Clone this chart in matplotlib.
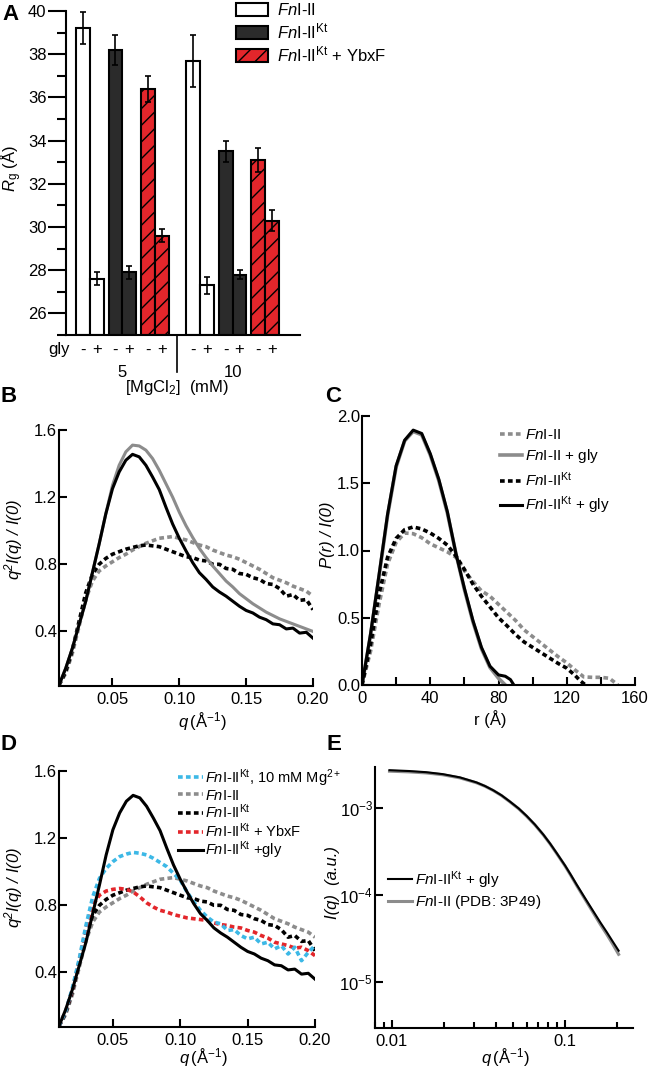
import matplotlib
matplotlib.use("Agg")
import matplotlib.pyplot as plt
import matplotlib.transforms as mtransforms
from matplotlib.ticker import MultipleLocator, FormatStrFormatter, LogLocator, NullLocator, NullFormatter
import numpy as np

plt.rcParams['font.family'] = ['Liberation Sans', 'DejaVu Sans']
plt.rcParams['font.size'] = 12
plt.rcParams['axes.linewidth'] = 1.5
plt.rcParams['mathtext.fontset'] = 'custom'
plt.rcParams['mathtext.rm'] = 'Liberation Sans'
plt.rcParams['mathtext.it'] = 'Liberation Sans:italic'
plt.rcParams['mathtext.sf'] = 'Liberation Sans'
plt.rcParams['hatch.color'] = 'black'
plt.rcParams['hatch.linewidth'] = 1.0

# ---- panel A : Rg bars (order: 5 mM -, 5 mM +, 10 mM -, 10 mM +)
rg_fn = [39.2, 27.6, 37.7, 27.3]
rg_fn_err = [0.75, 0.3, 1.2, 0.4]
rg_kt = [38.2, 27.9, 33.5, 27.8]
rg_kt_err = [0.7, 0.3, 0.5, 0.2]
rg_ybxf = [36.4, 29.6, 33.1, 30.3]
rg_ybxf_err = [0.6, 0.3, 0.55, 0.5]
mg_labels = ['5', '10']
gly_signs = ['-', '+']

# ---- panels B / D : Kratky curves
q = [0.010, 0.015, 0.020, 0.025, 0.030, 0.035, 0.040, 0.045, 0.050, 0.055,
     0.060, 0.065, 0.070, 0.075, 0.080, 0.085, 0.090, 0.095, 0.100, 0.105,
     0.110, 0.115, 0.120, 0.125, 0.130, 0.135, 0.140, 0.145, 0.150, 0.155,
     0.160, 0.165, 0.170, 0.175, 0.180, 0.185, 0.190, 0.195, 0.200]
kr_kt_gly = [0.08, 0.18, 0.30, 0.44, 0.58, 0.75, 0.92, 1.10, 1.25, 1.35,
             1.42, 1.455, 1.44, 1.39, 1.32, 1.245, 1.14, 1.04, 0.955, 0.88,
             0.81, 0.75, 0.71, 0.665, 0.635, 0.61, 0.58, 0.55, 0.525, 0.51,
             0.485, 0.47, 0.445, 0.44, 0.415, 0.42, 0.39, 0.395, 0.36]
kr_fn_gly = [0.08, 0.18, 0.30, 0.44, 0.58, 0.75, 0.92, 1.10, 1.27, 1.39,
             1.47, 1.51, 1.505, 1.48, 1.43, 1.36, 1.28, 1.20, 1.11, 1.03,
             0.96, 0.895, 0.84, 0.79, 0.745, 0.70, 0.665, 0.625, 0.595, 0.565,
             0.54, 0.515, 0.495, 0.475, 0.46, 0.445, 0.43, 0.415, 0.40]
kr_kt = [0.08, 0.16, 0.29, 0.46, 0.63, 0.74, 0.80, 0.835, 0.86, 0.875,
         0.89, 0.90, 0.91, 0.915, 0.91, 0.905, 0.89, 0.875, 0.86, 0.845,
         0.84, 0.825, 0.82, 0.80, 0.80, 0.775, 0.77, 0.745, 0.74, 0.72,
         0.71, 0.685, 0.68, 0.655, 0.61, 0.62, 0.585, 0.59, 0.53]
kr_fn = [0.08, 0.15, 0.27, 0.43, 0.59, 0.70, 0.76, 0.79, 0.815, 0.84,
         0.86, 0.885, 0.905, 0.925, 0.94, 0.955, 0.96, 0.965, 0.955, 0.945,
         0.93, 0.915, 0.905, 0.885, 0.87, 0.855, 0.845, 0.83, 0.81, 0.79,
         0.77, 0.745, 0.72, 0.705, 0.69, 0.67, 0.655, 0.64, 0.61]
kr_kt_mg10 = [0.08, 0.17, 0.31, 0.48, 0.68, 0.85, 0.96, 1.02, 1.06, 1.09,
              1.105, 1.115, 1.11, 1.10, 1.08, 1.055, 1.03, 0.99, 0.95, 0.88,
              0.82, 0.77, 0.73, 0.70, 0.69, 0.65, 0.655, 0.62, 0.60, 0.61,
              0.57, 0.58, 0.54, 0.56, 0.51, 0.55, 0.47, 0.52, 0.56]
kr_kt_ybxf = [0.08, 0.17, 0.30, 0.47, 0.66, 0.80, 0.86, 0.885, 0.895, 0.90,
              0.895, 0.88, 0.85, 0.815, 0.79, 0.77, 0.76, 0.745, 0.735, 0.725,
              0.72, 0.715, 0.71, 0.695, 0.685, 0.68, 0.67, 0.665, 0.65, 0.64,
              0.62, 0.605, 0.58, 0.57, 0.56, 0.545, 0.55, 0.53, 0.50]

# ---- panel C : P(r)
r_kt_gly = [0, 5, 10, 15, 20, 25, 30, 35, 40, 45, 50, 55, 60, 65, 70, 75, 80, 84, 87, 89]
p_kt_gly = [0.0, 0.38, 0.82, 1.27, 1.63, 1.82, 1.895, 1.87, 1.72, 1.53, 1.29, 0.98,
            0.72, 0.48, 0.28, 0.14, 0.075, 0.065, 0.04, 0.0]
r_fn_gly = [0, 5, 10, 15, 20, 25, 30, 35, 40, 45, 50, 55, 60, 65, 70, 75, 80, 84]
p_fn_gly = [0.0, 0.37, 0.81, 1.26, 1.62, 1.815, 1.885, 1.86, 1.71, 1.52, 1.28, 0.98,
            0.71, 0.47, 0.27, 0.13, 0.05, 0.0]
r_kt = [0, 5, 10, 15, 20, 25, 30, 35, 40, 45, 50, 55, 60, 65, 70, 75, 80, 85,
        90, 95, 100, 105, 110, 115, 120, 125, 128, 131]
p_kt = [0.0, 0.30, 0.68, 0.95, 1.09, 1.155, 1.175, 1.16, 1.13, 1.09, 1.04, 0.96,
        0.86, 0.75, 0.66, 0.58, 0.50, 0.44, 0.375, 0.32, 0.28, 0.24, 0.20, 0.16,
        0.125, 0.07, 0.03, 0.0]
r_fn = [0, 5, 10, 15, 20, 25, 30, 35, 40, 45, 50, 55, 60, 65, 70, 75, 80, 85,
        90, 95, 100, 105, 110, 115, 120, 125, 130, 135, 140, 145, 150]
p_fn = [0.0, 0.25, 0.60, 0.90, 1.06, 1.13, 1.125, 1.095, 1.05, 1.02, 0.99, 0.95,
        0.85, 0.77, 0.70, 0.66, 0.60, 0.54, 0.48, 0.41, 0.36, 0.31, 0.26, 0.21,
        0.165, 0.11, 0.06, 0.057, 0.057, 0.05, 0.0]

# ---- panel E : I(q), log-log
q_e = [0.0097, 0.0126, 0.0158, 0.0197, 0.0247, 0.0308, 0.0345, 0.0385, 0.043,
       0.048, 0.054, 0.060, 0.067, 0.075, 0.082, 0.0894, 0.100, 0.108, 0.1167,
       0.130, 0.146, 0.160, 0.174, 0.188, 0.204]
i_kt_gly = [2.72e-3, 2.66e-3, 2.58e-3, 2.45e-3, 2.25e-3, 1.97e-3, 1.79e-3, 1.60e-3,
            1.40e-3, 1.19e-3, 9.89e-4, 8.13e-4, 6.46e-4, 4.95e-4, 3.91e-4, 3.05e-4,
            2.19e-4, 1.71e-4, 1.32e-4, 9.33e-5, 6.46e-5, 4.84e-5, 3.76e-5, 2.95e-5,
            2.29e-5]
i_fn_pdb = [2.65e-3, 2.60e-3, 2.53e-3, 2.41e-3, 2.22e-3, 1.95e-3, 1.78e-3, 1.59e-3,
            1.39e-3, 1.18e-3, 9.8e-4, 8.05e-4, 6.4e-4, 4.9e-4, 3.87e-4, 3.01e-4,
            2.16e-4, 1.68e-4, 1.29e-4, 9.05e-5, 6.2e-5, 4.6e-5, 3.55e-5, 2.76e-5,
            2.08e-5]

FN = r'$Fn$I-II'
KT = r'$Fn$I-II$^{\mathregular{Kt}}$'
GRAY = '#8c8c8c'
RED = '#e3262b'
CYAN = '#3cb8e6'
DARK = '#2b2b2b'
DASH = (0, (1.3, 0.9))

W, H = 650, 1070
fig = plt.figure(figsize=(W / 100, H / 100), dpi=100)


def axes_px(left, top, right, bottom):
	return fig.add_axes([left / W, 1 - bottom / H, (right - left) / W, (bottom - top) / H])


def style(ax):
	ax.spines['top'].set_visible(False)
	ax.spines['right'].set_visible(False)
	ax.tick_params(which='both', direction='in', width=1.5, length=6, labelsize=12)
	ax.tick_params(axis='y', pad=1.5)
	ax.tick_params(axis='x', pad=4)


# ================= A
axA = axes_px(66, 11, 300, 335)
axA.spines['top'].set_visible(False)
axA.spines['right'].set_visible(False)
group_step, pair_step = 8.02, 2.36
series = [(rg_fn, rg_fn_err, 'white', None, FN),
          (rg_kt, rg_kt_err, DARK, None, KT),
          (rg_ybxf, rg_ybxf_err, RED, '//', KT + ' + YbxF')]
all_x = []
for s, (vals, errs, col, hatch, lab) in enumerate(series):
	xs = [g * group_step + s * pair_step + k + 0.5 for g in range(2) for k in range(2)]
	all_x += xs
	axA.bar(xs, np.array(vals) - 25, bottom=25, width=1.0, color=col, edgecolor='black',
	        linewidth=1.5, hatch=hatch, label=lab, zorder=2)
	axA.errorbar(xs, vals, yerr=errs, fmt='none', ecolor='black', elinewidth=1.2,
	             capsize=2.5, capthick=1.2, zorder=3)
axA.set_xlim(-0.73, 16.27)
axA.set_ylim(25, 40)
axA.set_xticks([])
axA.yaxis.set_major_locator(MultipleLocator(2))
axA.yaxis.set_minor_locator(MultipleLocator(1))
axA.tick_params(axis='y', which='major', direction='out', length=13, width=1.5, labelsize=12, pad=1)
axA.tick_params(axis='y', which='minor', direction='out', length=6.5, width=1.5)
axA.set_ylabel(r'$R_{\mathregular{g}}$ (Å)', fontsize=12)
axA.yaxis.set_label_coords(-0.18, 0.512)

trans = mtransforms.blended_transform_factory(axA.transData, axA.transAxes)
axA.text(-1.27, -0.046, 'gly', transform=trans, ha='center', va='center', fontsize=12)
for i, x in enumerate(sorted(all_x)):
	axA.text(x, -0.046, gly_signs[i % 2], transform=trans, ha='center', va='center', fontsize=12)
sep = (6.72 + group_step) / 2
axA.plot([sep, sep], [0, -0.114], transform=trans, color='black', lw=1.2, clip_on=False)
for g, lab in enumerate(mg_labels):
	axA.text(g * group_step + 3.36, -0.117, lab, transform=trans, ha='center', va='center', fontsize=12)
axA.text(sep, -0.163, r'[MgCl$_{\mathregular{2}}$]  (mM)', transform=trans, ha='center', va='center', fontsize=12)
axA.legend(loc='upper left', bbox_to_anchor=(236 / W, 1 - 2 / H), bbox_transform=fig.transFigure,
           frameon=False, fontsize=12, handlelength=1.9, handleheight=0.8, handletextpad=0.55,
           labelspacing=0.2, borderpad=0, borderaxespad=0)

# ================= B
axB = axes_px(59, 430, 313, 686)
style(axB)
axB.plot(q, kr_fn, color=GRAY, lw=2.6, ls=DASH)
axB.plot(q, kr_kt, color='black', lw=2.6, ls=DASH)
axB.plot(q, kr_fn_gly, color=GRAY, lw=2.2)
axB.plot(q, kr_kt_gly, color='black', lw=2.2)

# ================= D
axD = axes_px(59, 771, 315, 1027)
style(axD)
axD.plot(q, kr_fn, color=GRAY, lw=2.6, ls=DASH, label=FN)
axD.plot(q, kr_kt, color='black', lw=2.6, ls=DASH, label=KT)
axD.plot(q, kr_kt_ybxf, color=RED, lw=2.6, ls=DASH, label=KT + ' + YbxF')
axD.plot(q, kr_kt_mg10, color=CYAN, lw=2.6, ls=DASH, label=KT + ', 10 mM Mg$^{\\mathregular{2+}}$')
axD.plot(q, kr_kt_gly, color='black', lw=2.2, label=KT + ' +gly')
h, l = axD.get_legend_handles_labels()
order = [3, 0, 1, 2, 4]
axD.legend([h[i] for i in order], [l[i] for i in order], loc='upper left',
           bbox_to_anchor=(178 / W, 1 - 767 / H), bbox_transform=fig.transFigure,
           frameon=False, fontsize=10.5, handlelength=1.7, handletextpad=0.15,
           labelspacing=0.0, borderpad=0, borderaxespad=0)

for ax, yl, xl in [(axB, (686, 539), -0.095), (axD, (1027, 887), -0.074)]:
	ax.set_xlim(0.01, 0.20)
	ax.set_ylim(0.075, 1.6)
	ax.set_xticks([0.05, 0.10, 0.15, 0.20])
	ax.xaxis.set_major_formatter(FormatStrFormatter('%.2f'))
	ax.set_yticks([0.4, 0.8, 1.2, 1.6])
	ax.yaxis.set_major_formatter(FormatStrFormatter('%.1f'))
	ax.set_ylabel(r'q$^{\mathregular{2}}$I(q) / I(0)', fontsize=12, fontstyle='italic')
	ax.set_xlabel(r'$q\,$(Å$^{\mathregular{-1}}$)', fontsize=12)
	ax.yaxis.set_label_coords(-0.134, (yl[0] - yl[1]) / 256)
	ax.xaxis.set_label_coords(0.565, xl)

# ================= C
axC = axes_px(362, 416, 635, 685)
style(axC)
axC.plot(r_fn, p_fn, color=GRAY, lw=2.6, ls=DASH, label=FN)
axC.plot(r_fn_gly, p_fn_gly, color=GRAY, lw=2.6, label=FN + ' + gly')
axC.plot(r_kt, p_kt, color='black', lw=2.6, ls=DASH, label=KT)
axC.plot(r_kt_gly, p_kt_gly, color='black', lw=2.2, label=KT + ' + gly')
axC.set_xlim(0, 160)
axC.set_ylim(0, 2.0)
axC.xaxis.set_major_locator(MultipleLocator(40))
axC.xaxis.set_minor_locator(MultipleLocator(20))
axC.yaxis.set_major_locator(MultipleLocator(0.5))
axC.yaxis.set_major_formatter(FormatStrFormatter('%.1f'))
axC.set_ylabel('P(r) / I(0)', fontsize=12, fontstyle='italic')
axC.set_xlabel('r (Å)', fontsize=12)
axC.yaxis.set_label_coords(-0.099, 0.558)
axC.xaxis.set_label_coords(0.469, -0.093)
axC.legend(loc='upper left', bbox_to_anchor=(500 / W, 1 - 428 / H), bbox_transform=fig.transFigure,
           frameon=False, fontsize=11, handlelength=1.45, handletextpad=0.2,
           labelspacing=0.35, borderpad=0, borderaxespad=0)

# ================= E
axE = axes_px(375, 767, 633, 1028)
style(axE)
axE.plot(q_e, i_fn_pdb, color=GRAY, lw=2.2, label=FN + ' (PDB: 3P49)')
axE.plot(q_e, i_kt_gly, color='black', lw=1.5, label=KT + ' + gly')
axE.set_xscale('log')
axE.set_yscale('log')
axE.set_xlim(0.008, 0.247)
axE.set_ylim(2.96e-6, 2.96e-3)
axE.set_xticks([0.01, 0.1])
axE.set_xticklabels(['0.01', '0.1'])
axE.xaxis.set_minor_locator(LogLocator(base=10, subs=np.arange(2, 10)))
axE.xaxis.set_minor_formatter(NullFormatter())
axE.tick_params(axis='x', which='minor', length=4)
axE.set_yticks([1e-3, 1e-4, 1e-5])
axE.set_yticklabels([r'10$^{\mathregular{-3}}$', r'10$^{\mathregular{-4}}$', r'10$^{\mathregular{-5}}$'])
axE.yaxis.set_minor_locator(NullLocator())
axE.set_ylabel('I(q)  (a.u.)', fontsize=12, fontstyle='italic')
axE.set_xlabel(r'$q\,$(Å$^{\mathregular{-1}}$)', fontsize=12)
axE.yaxis.set_label_coords(-0.135, 0.556)
axE.xaxis.set_label_coords(0.504, -0.07)
h, l = axE.get_legend_handles_labels()
axE.legend(h[::-1], l[::-1], loc='upper left', bbox_to_anchor=(388 / W, 1 - 869 / H),
           bbox_transform=fig.transFigure, frameon=False, fontsize=11, handlelength=1.55,
           handletextpad=0.2, labelspacing=0.15, borderpad=0, borderaxespad=0)

# panel letters
for txt, x, y in [('A', 2, 20), ('B', 0, 402), ('C', 325, 402), ('D', 0, 750), ('E', 327, 750)]:
	fig.text(x / W, 1 - y / H, txt, fontsize=16, fontweight='bold', ha='left', va='baseline')

fig.savefig('out.png', dpi=100)
